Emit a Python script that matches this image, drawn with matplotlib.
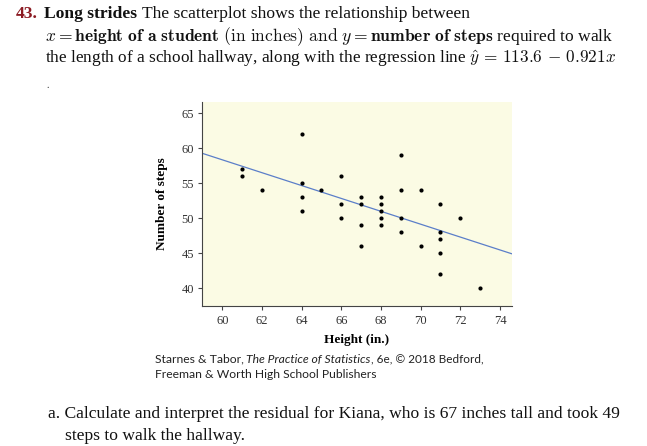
import matplotlib as mpl
import matplotlib.pyplot as plt
import numpy as np

W, H = 647, 446

height_in = [61, 61, 62, 64, 64, 64, 64, 65, 66, 66, 66, 67, 67, 67, 67, 68, 68,
             68, 68, 68, 69, 69, 69, 69, 70, 70, 71, 71, 71, 71, 71, 72, 73]
steps = [57, 56, 54, 62, 55, 53, 51, 54, 56, 52, 50, 53, 52, 49, 46, 53, 52,
         51, 50, 49, 59, 54, 50, 48, 54, 46, 52, 48, 47, 45, 42, 50, 40]
INTERCEPT = 113.6
SLOPE = -0.921
x_ticks = [60, 62, 64, 66, 68, 70, 72, 74]
y_ticks = [40, 45, 50, 55, 60, 65]

SERIF = "Liberation Serif"
SANS = "Lato"


def px(x, y):
    return x / W, 1 - y / H


def write_runs(fig, x, y, runs):
    renderer = fig.canvas.get_renderer()
    for text, gap, style in runs:
        t = fig.text(*px(x, y), text, va="baseline", ha="left", **style)
        x = t.get_window_extent(renderer).x1 + gap


def main():
    mpl.rcParams.update({
        "font.family": SERIF,
        "mathtext.fontset": "cm",
        "axes.unicode_minus": True,
    })
    fig = plt.figure(figsize=(W / 100, H / 100), dpi=100)
    fig.patch.set_facecolor("white")

    # question header
    body = dict(fontsize=12.6, family=SERIF, color="#111111")
    write_runs(fig, 16, 18.3, [
        ("43.", 6.5, dict(body, weight="bold", color="#8B1A22")),
        ("Long strides", 5, dict(body, weight="bold")),
        ("The scatterplot shows the relationship between", 0, body),
    ])
    fig.text(*px(45, 40.7),
             r"$x = \mathbf{height\ of\ a\ student}\ \mathrm{(in\ inches)\ and}\ "
             r"y = \mathbf{number\ of\ steps}$ required to walk",
             va="baseline", ha="left", math_fontfamily="cm", **body)
    fig.text(*px(45, 63.3),
             r"the length of a school hallway, along with the regression line "
             r"$\hat{y}\,=\,\mathbf{113.6}\,-\,\mathbf{0.921}x$",
             va="baseline", ha="left", math_fontfamily="cm", **dict(body, fontsize=12.4))
    fig.text(*px(46.5, 88), ".", fontsize=7, family=SERIF, color="#222222")

    # scatterplot
    left, right, top, bottom = 201.7, 511.5, 102.3, 305.7
    ax = fig.add_axes([left / W, 1 - bottom / H, (right - left) / W, (bottom - top) / H])
    ax.set_facecolor("#FBFBE4")
    ax.scatter(height_in, steps, s=9, color="black", linewidths=0, zorder=3)
    xlim = np.array([58.96, 74.58])
    ax.plot(xlim, INTERCEPT + SLOPE * xlim, color="#5B7EC9", linewidth=0.9, zorder=2)
    ax.set_xlim(*xlim)
    ax.set_ylim(37.47, 66.57)
    ax.set_xticks(x_ticks)
    ax.set_yticks(y_ticks)
    for side in ("top", "right"):
        ax.spines[side].set_visible(False)
    for side in ("left", "bottom"):
        ax.spines[side].set_color("#444444")
        ax.spines[side].set_linewidth(0.8)
    ax.tick_params(direction="out", length=3.2, width=0.8, color="#444444",
                   labelsize=9, labelcolor="#333333", pad=3)
    ax.tick_params(axis="x", pad=3.8)
    ax.tick_params(axis="y", pad=2.5)
    ax.set_xlabel("Height (in.)", fontsize=9.5, weight="bold", family=SERIF)
    ax.xaxis.set_label_coords(0.5, -(340.5 - bottom) / (bottom - top))
    ax.xaxis.label.set_va("center")
    ax.set_ylabel("Number of steps", fontsize=9.5, weight="bold", family=SERIF)
    ax.yaxis.set_label_coords((161.7 - left) / (right - left), 0.5)
    ax.yaxis.label.set_va("center")

    # credit
    credit = dict(fontsize=8.7, family=SANS, color="#222222")
    write_runs(fig, 155, 362.7, [
        ("Starnes & Tabor,", 2.6, credit),
        ("The Practice of Statistics", 0.3, dict(credit, style="italic")),
        (", 6e, \u00a9 2018 Bedford,", 0, dict(credit, fontsize=8.5)),
    ])
    fig.text(*px(155, 377.7), "Freeman & Worth High School Publishers",
             va="baseline", ha="left", **credit)

    # part a
    fig.text(*px(48.3, 417.7),
             "a. Calculate and interpret the residual for Kiana, who is 67 inches tall and took 49",
             va="baseline", ha="left", **body)
    fig.text(*px(65, 440), "steps to walk the hallway.",
             va="baseline", ha="left", **body)

    fig.savefig("out.png", dpi=100)


if __name__ == "__main__":
    main()
